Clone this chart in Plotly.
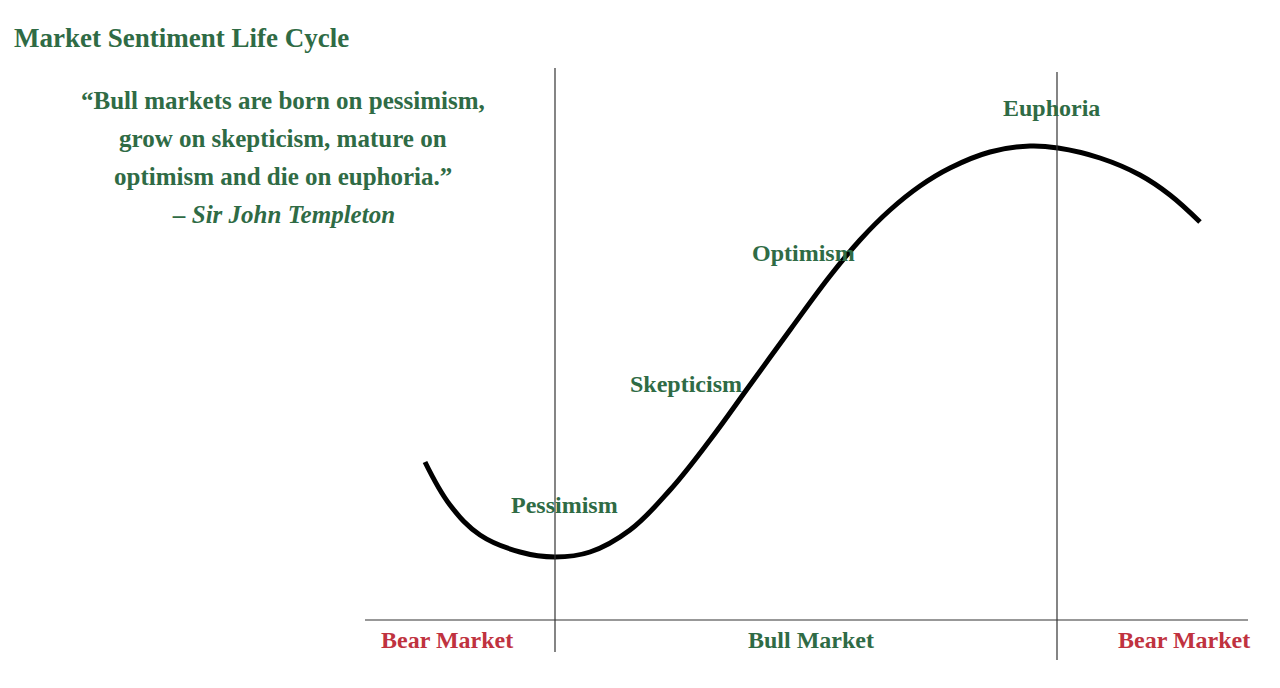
import plotly.graph_objects as go

# Sentiment curve (position along cycle, market level; screen-like units)
curve_x = [425,450,480,520,555,590,630,670,710,750,790,830,860,890,920,950,990,1030,1058,1100,1140,1170,1200]
curve_y = [462,505,535,552,557,552,530,490,440,385,330,276,240,210,186,168,152,146,148,158,175,195,222]

phase_labels = ["Pessimism", "Skepticism", "Optimism", "Euphoria"]
phase_x = [564, 686, 803, 1051]
phase_y = [505, 384, 253, 108]

market_labels = ["Bear Market", "Bull Market", "Bear Market"]
market_x = [447, 811, 1184]
market_colors = ["#c0323f", "#2f6b45", "#c0323f"]

quote_lines = ["“Bull markets are born on pessimism,", "grow on skepticism, mature on",
               "optimism and die on euphoria.”", "<i>– Sir John Templeton</i>"]

GREEN = "#2f6b45"
FONT = "Liberation Serif"

fig = go.Figure()
fig.add_trace(go.Scatter(x=curve_x, y=curve_y, mode="lines",
                         line=dict(color="black", width=5, shape="spline", smoothing=1.1),
                         hoverinfo="skip", showlegend=False))

shapes = [
    dict(type="line", x0=555, x1=555, y0=68, y1=652, line=dict(color="#333", width=1.2)),
    dict(type="line", x0=1057, x1=1057, y0=72, y1=660, line=dict(color="#333", width=1.2)),
    dict(type="line", x0=365, x1=1248, y0=620, y1=620, line=dict(color="#333", width=1.2)),
]

ann = [dict(x=12, y=38, text="<b>Market Sentiment Life Cycle</b>", xanchor="left", yanchor="middle",
            showarrow=False, font=dict(family=FONT, size=27, color=GREEN))]
for i, t in enumerate(quote_lines):
    ann.append(dict(x=283, y=100 + i * 38, text="<b>" + t + "</b>", showarrow=False,
                    xanchor="center", yanchor="middle", font=dict(family=FONT, size=25, color=GREEN)))
for t, x, y in zip(phase_labels, phase_x, phase_y):
    ann.append(dict(x=x, y=y, text="<b>" + t + "</b>", showarrow=False, xanchor="center",
                    yanchor="middle", font=dict(family=FONT, size=24, color=GREEN)))
for t, x, c in zip(market_labels, market_x, market_colors):
    ann.append(dict(x=x, y=640, text="<b>" + t + "</b>", showarrow=False, xanchor="center",
                    yanchor="middle", font=dict(family=FONT, size=24, color=c)))

fig.update_layout(
    width=1280, height=688, margin=dict(l=0, r=0, t=0, b=0),
    paper_bgcolor="white", plot_bgcolor="white",
    xaxis=dict(range=[8, 1288], visible=False, fixedrange=True),
    yaxis=dict(range=[696, 8], visible=False, fixedrange=True),
    shapes=shapes, annotations=ann,
)
fig.write_html("out.html")
